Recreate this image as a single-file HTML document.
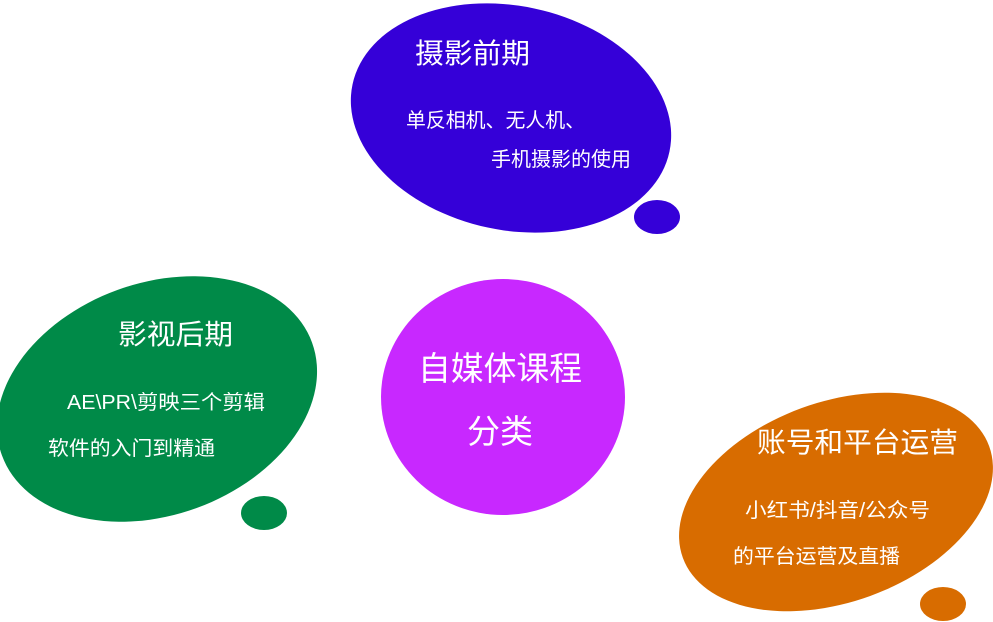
<!DOCTYPE html>
<html><head><meta charset="utf-8"><style>
html,body{margin:0;padding:0;background:#fff;overflow:hidden;}
svg{display:block;}
text{font-family:"Liberation Sans","Noto Sans CJK SC",sans-serif;fill:#fff;}
</style></head><body>
<svg width="993" height="622" viewBox="0 0 993 622">
<ellipse cx="511" cy="118" rx="162" ry="112" transform="rotate(12 511 118)" fill="#3500d8"/>
<ellipse cx="657" cy="217" rx="23" ry="17" fill="#3500d8"/>
<ellipse cx="157" cy="399" rx="165" ry="116" transform="rotate(-20 157 399)" fill="#008a48"/>
<ellipse cx="264" cy="513" rx="23" ry="17" fill="#008a48"/>
<ellipse cx="503" cy="397" rx="122" ry="118" fill="#c828ff"/>
<ellipse cx="836" cy="502" rx="163" ry="100" transform="rotate(-20 836 502)" fill="#d86c00"/>
<ellipse cx="943" cy="604" rx="23" ry="17" fill="#d86c00"/>
<text x="415" y="63" font-size="28" textLength="115" lengthAdjust="spacingAndGlyphs">摄影前期</text>
<text x="406" y="127" font-size="20" textLength="179" lengthAdjust="spacingAndGlyphs">单反相机、无人机、</text>
<text x="491" y="166" font-size="20" textLength="140" lengthAdjust="spacingAndGlyphs">手机摄影的使用</text>
<text x="118" y="344" font-size="28" textLength="115" lengthAdjust="spacingAndGlyphs">影视后期</text>
<text x="67" y="409" font-size="20" textLength="198" lengthAdjust="spacingAndGlyphs">AE\PR\剪映三个剪辑</text>
<text x="48" y="455" font-size="20" textLength="167" lengthAdjust="spacingAndGlyphs">软件的入门到精通</text>
<text x="418" y="380" font-size="33" textLength="164" lengthAdjust="spacingAndGlyphs">自媒体课程</text>
<text x="467" y="443" font-size="33" textLength="66" lengthAdjust="spacingAndGlyphs">分类</text>
<text x="757" y="452" font-size="28" textLength="201" lengthAdjust="spacingAndGlyphs">账号和平台运营</text>
<text x="745" y="517" font-size="20" textLength="185" lengthAdjust="spacingAndGlyphs">小红书/抖音/公众号</text>
<text x="733" y="563" font-size="20" textLength="167" lengthAdjust="spacingAndGlyphs">的平台运营及直播</text>
</svg>
</body></html>
